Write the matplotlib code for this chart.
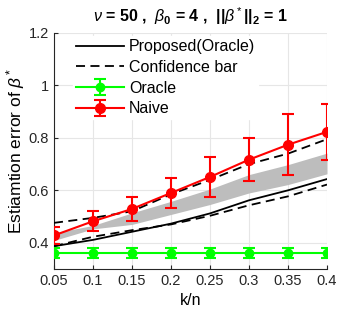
import numpy as np
import matplotlib.pyplot as plt

plt.rcParams['font.family'] = ['Liberation Sans', 'DejaVu Sans']
plt.rcParams['mathtext.fontset'] = 'custom'
plt.rcParams['mathtext.rm'] = 'Liberation Sans'
plt.rcParams['mathtext.it'] = 'Liberation Sans:italic'
plt.rcParams['mathtext.bf'] = 'Liberation Sans:bold'

k_n = [0.05, 0.1, 0.15, 0.2, 0.25, 0.3, 0.35, 0.4]

proposed = [0.387, 0.411, 0.442, 0.473, 0.512, 0.562, 0.600, 0.643]
conf_upper = [0.476, 0.495, 0.520, 0.585, 0.640, 0.700, 0.740, 0.795]
conf_lower = [0.387, 0.423, 0.448, 0.470, 0.503, 0.543, 0.577, 0.622]

band_upper = [0.438, 0.466, 0.514, 0.558, 0.605, 0.660, 0.698, 0.742]
band_lower = [0.409, 0.453, 0.470, 0.508, 0.546, 0.590, 0.622, 0.663]

oracle = [0.362, 0.362, 0.362, 0.362, 0.362, 0.362, 0.362, 0.362]
oracle_err = [0.019, 0.019, 0.019, 0.019, 0.019, 0.019, 0.019, 0.019]

naive = [0.428, 0.482, 0.529, 0.590, 0.651, 0.717, 0.774, 0.823]
naive_err = [0.033, 0.038, 0.045, 0.057, 0.076, 0.082, 0.117, 0.107]

fig, ax = plt.subplots(figsize=(3.43, 3.17), dpi=100)
fig.subplots_adjust(left=54/343, right=327/343, bottom=1-269/317, top=1-33/317)

ax.fill_between(k_n, band_lower, band_upper, color='#bdbdbd', linewidth=0, zorder=1)

ax.plot(k_n, proposed, 'k-', linewidth=1.3, label='Proposed(Oracle)', zorder=3)
ax.plot(k_n, conf_upper, 'k--', linewidth=1.3, dashes=(5, 3), label='Confidence bar', zorder=3)
ax.plot(k_n, conf_lower, 'k--', linewidth=1.3, dashes=(5, 3), zorder=3)

ax.errorbar(k_n, oracle, yerr=oracle_err, color='#00ff00', marker='o', markersize=6,
            linewidth=1.5, capsize=4, capthick=1.5, label='Oracle', zorder=4)
ax.errorbar(k_n, naive, yerr=naive_err, color='#ff0000', marker='o', markersize=7,
            linewidth=1.5, capsize=4, capthick=1.5, label='Naive', zorder=4)

ax.set_xlim(0.05, 0.4)
ax.set_ylim(0.3, 1.2)
ax.set_xticks(k_n)
ax.set_xticklabels(['0.05', '0.1', '0.15', '0.2', '0.25', '0.3', '0.35', '0.4'])
ax.set_yticks([0.4, 0.6, 0.8, 1.0, 1.2])
ax.set_yticklabels(['0.4', '0.6', '0.8', '1', '1.2'])
ax.tick_params(labelsize=10.5, direction='in', length=3, colors='#262626')
ax.grid(True, color='#e6e6e6', linewidth=0.8)
ax.set_axisbelow(True)
for s in ['top', 'right']:
    ax.spines[s].set_visible(False)
for s in ['left', 'bottom']:
    ax.spines[s].set_color('#262626')

ax.set_xlabel('k/n', fontsize=11.5)
ax.set_ylabel(r'Estiamtion error of $\beta^*$', fontsize=12.5, labelpad=1)
ax.set_title(r'$\nu$ = 50 ,  $\beta_{\mathbf{0}}$ = 4 ,  ||$\beta^*$||$_{\mathbf{2}}$ = 1',
             fontsize=11.5, fontweight='bold', pad=8)

leg = ax.legend(loc='upper left', bbox_to_anchor=(0.04, 1.02), fontsize=11.5,
                frameon=True, edgecolor='white', facecolor='white', framealpha=1,
                fancybox=False, handlelength=3.0, handletextpad=0.3,
                labelspacing=0.35, borderpad=0.2)

plt.savefig('out.png', dpi=100)
